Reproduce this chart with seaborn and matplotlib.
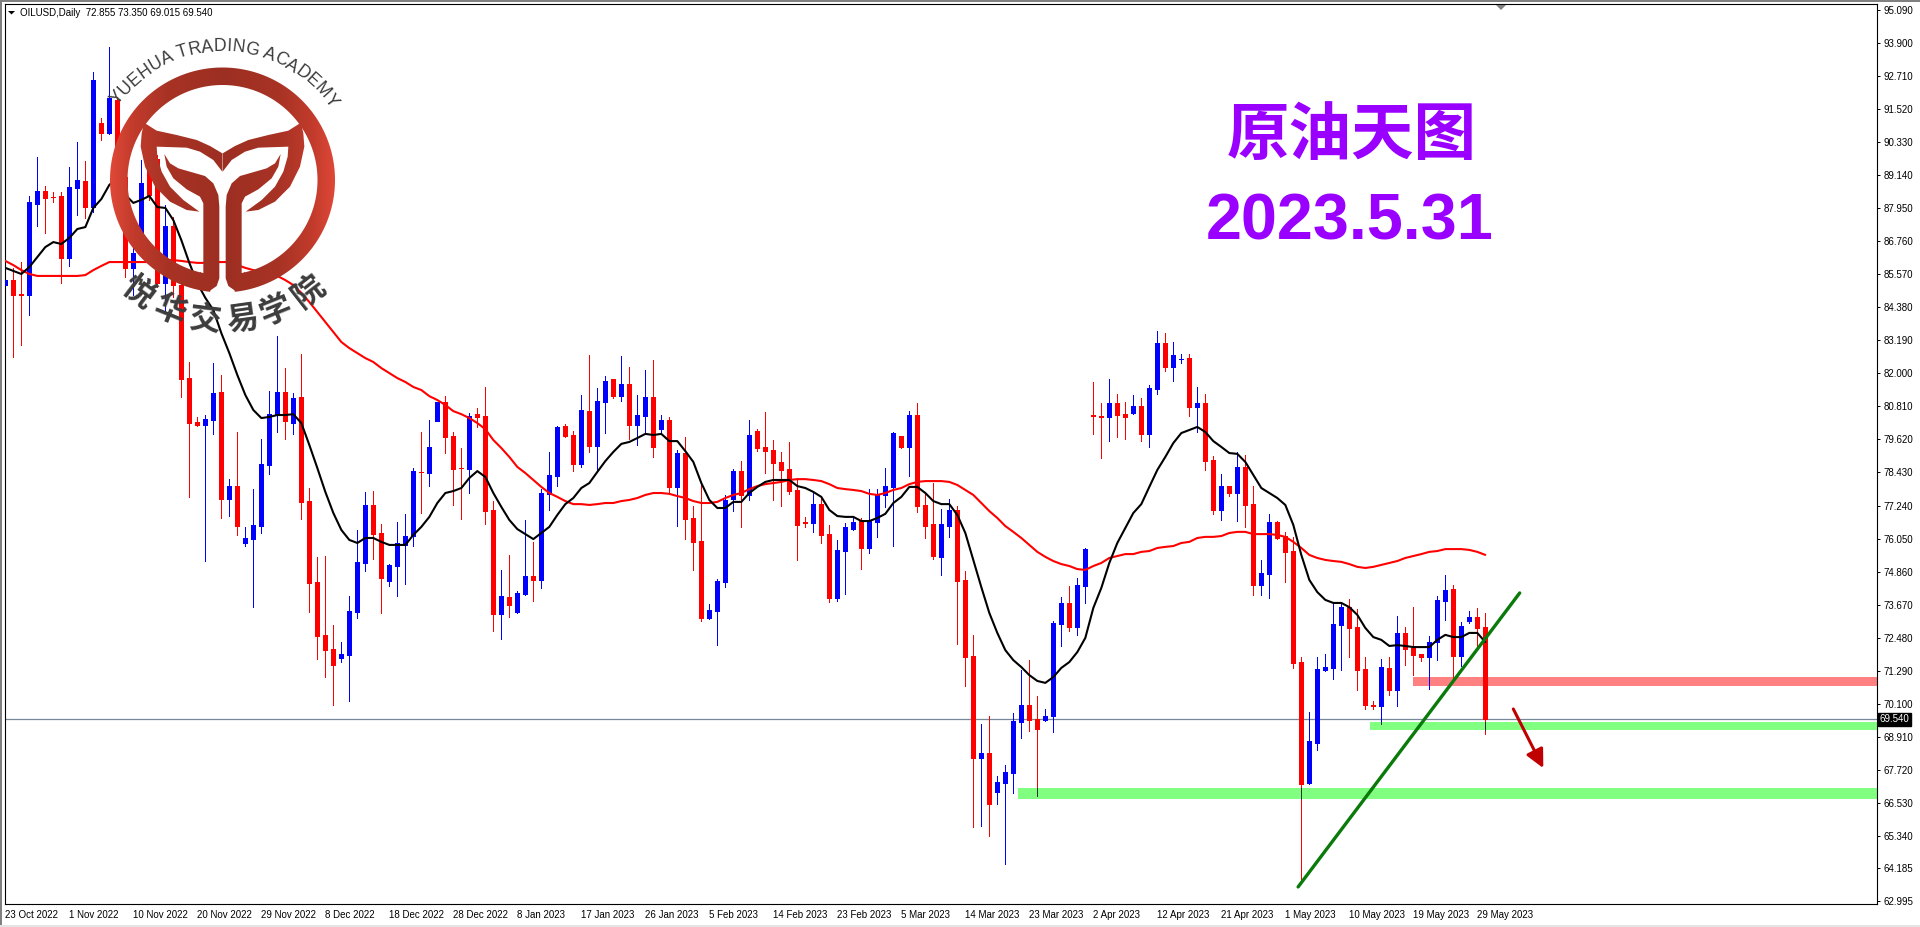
import numpy as np
import pandas as pd
import seaborn as sns
import matplotlib.pyplot as plt

from matplotlib.colors import LinearSegmentedColormap
from matplotlib.font_manager import FontProperties
from matplotlib.patches import Polygon
from matplotlib.textpath import text_to_path

# Colours
RED = "#FF0000"
BLUE = "#0000FF"
PINK_ZONE = "#FF8080"
GREEN_ZONE = "#80FF80"
PURPLE = "#9900FF"
LOGO_TEXT = "#3C3C3C"

# OILUSD daily candles, b = up bar, r = down bar
sides = ("brrbbrrrbb" "rbrbrrbbrr" "brrrrbbrbr" "bbbbbrbrrr" "rrbbbbrrbb"
         "bbrbbrrrbr" "rrbrbbrbbb" "rrbrbbrbrb" "brbrbrrrbb" "bbrbrrrrrr"
         "rbrrbbbrbb" "bbrbrrrbbr" "rrbrbbbbrr" "bbbrbbrrbr" "rbrbbrbbrb"
         "rrbrbrrbbr" "rrrbbbbbrr" "rrbrbrrrbb" "brbbrr")

highs = [85.61, 85.80, 86.01, 88.39, 89.80, 88.75, 88.53, 88.53, 89.43, 90.33,
         89.65, 92.86, 91.20, 93.76, 91.96, 90.05, 87.34, 89.69, 89.51, 89.87,
         88.07, 87.63, 85.54, 82.41, 80.43, 80.50, 82.37, 81.94, 78.19, 79.89,
         76.47, 77.83, 79.64, 81.36, 83.35, 82.19, 81.29, 82.70, 77.87, 75.39,
         75.42, 72.94, 72.32, 73.98, 76.36, 77.73, 77.76, 76.58, 75.13, 76.65,
         76.94, 78.59, 79.89, 80.32, 80.97, 81.18, 79.89, 79.31, 80.57, 80.75,
         81.51, 77.40, 74.92, 75.46, 74.16, 76.72, 75.93, 77.83, 79.17, 80.10,
         80.18, 79.92, 81.22, 82.66, 81.47, 81.90, 81.80, 82.63, 82.23, 81.22,
         82.12, 82.48, 80.50, 80.43, 79.24, 79.71, 77.22, 78.05, 73.69, 74.59,
         77.62, 78.56, 78.84, 80.32, 80.00, 80.61, 79.60, 79.17, 79.53, 78.23,
         76.82, 77.69, 77.51, 76.54, 76.00, 76.61, 76.82, 76.79, 77.83, 77.83,
         78.59, 79.89, 79.74, 80.64, 80.93, 77.66, 78.05, 77.11, 77.47, 77.22,
         74.88, 72.58, 69.37, 69.66, 67.50, 67.89, 69.77, 71.31, 71.67, 70.38,
         69.91, 73.08, 73.94, 74.34, 74.63, 75.71, 81.69, 80.93, 81.80, 81.26,
         80.97, 81.22, 81.11, 81.58, 83.53, 83.45, 83.13, 82.70, 82.70, 81.51,
         81.26, 79.02, 78.37, 77.94, 79.17, 79.06, 77.94, 75.28, 76.94, 76.68,
         76.29, 76.11, 71.78, 69.80, 71.78, 71.89, 73.73, 73.76, 73.87, 73.51,
         71.78, 70.20, 71.71, 71.78, 73.26, 72.86, 73.58, 71.89, 72.54, 73.98,
         74.74, 74.38, 73.05, 73.44, 73.55, 73.35]

body_tops = [85.36, 85.36, 84.86, 88.17, 88.57, 88.57, 88.36, 88.39, 88.71, 88.97,
             88.93, 92.57, 91.02, 91.92, 91.85, 89.07, 86.34, 88.86, 89.33, 89.72,
             87.31, 87.31, 85.18, 81.83, 80.25, 80.36, 81.29, 81.33, 77.94, 77.94,
             76.07, 76.54, 78.74, 80.53, 81.33, 81.33, 81.11, 81.15, 77.40, 74.49,
             72.58, 72.07, 71.89, 73.44, 75.20, 77.26, 77.26, 76.25, 75.10, 75.89,
             76.14, 78.48, 78.46, 79.35, 80.96, 80.97, 79.74, 78.60, 80.46, 80.53,
             80.46, 77.08, 73.98, 73.94, 74.09, 74.70, 74.70, 77.69, 78.34, 80.07,
             80.10, 79.78, 80.68, 80.64, 81.00, 81.72, 81.79, 81.62, 81.62, 80.50,
             81.15, 81.15, 80.32, 80.32, 79.13, 79.13, 76.79, 75.96, 73.48, 74.52,
             77.44, 78.48, 78.48, 79.78, 79.92, 79.35, 79.24, 78.81, 78.56, 77.80,
             76.64, 77.29, 77.29, 76.21, 75.64, 76.47, 76.64, 76.68, 76.68, 77.62,
             77.94, 79.85, 79.73, 80.50, 80.50, 77.26, 76.57, 76.57, 77.08, 77.08,
             74.56, 71.82, 68.32, 68.32, 67.28, 67.64, 69.48, 70.05, 70.05, 69.55,
             69.66, 73.01, 73.73, 73.73, 74.38, 75.67, 80.50, 80.46, 80.93, 80.93,
             80.53, 80.82, 80.82, 81.47, 83.09, 83.09, 82.66, 82.52, 82.55, 80.93,
             80.93, 78.88, 77.94, 77.93, 78.63, 78.63, 77.29, 74.81, 76.65, 76.65,
             76.14, 75.60, 71.60, 68.76, 71.35, 71.42, 72.97, 73.58, 73.58, 72.86,
             71.35, 70.05, 71.42, 71.39, 72.65, 72.65, 72.11, 71.88, 72.32, 73.84,
             74.20, 74.23, 72.90, 73.22, 73.22, 72.855]

body_bottoms = [85.18, 84.82, 84.84, 84.82, 88.10, 88.32, 88.34, 86.15, 86.15, 88.68,
                87.99, 87.99, 90.66, 90.66, 90.12, 85.80, 85.80, 86.98, 88.43, 85.25,
                85.25, 85.18, 81.80, 80.21, 80.14, 80.14, 80.32, 77.47, 77.47, 76.50,
                75.89, 76.03, 76.50, 78.70, 80.53, 80.28, 80.21, 77.37, 74.45, 72.54,
                72.03, 71.49, 71.75, 71.85, 73.40, 75.17, 76.21, 74.63, 74.52, 75.06,
                75.82, 76.14, 78.44, 78.41, 80.28, 79.71, 78.55, 78.58, 78.55, 80.43,
                77.04, 73.33, 73.33, 73.66, 73.40, 74.05, 74.56, 74.56, 77.66, 78.30,
                79.74, 78.74, 78.74, 79.38, 79.38, 80.97, 81.18, 81.18, 80.14, 80.14,
                80.46, 79.35, 79.99, 77.91, 77.91, 76.75, 75.92, 73.19, 73.19, 73.44,
                74.49, 77.47, 77.62, 77.62, 79.31, 79.20, 78.77, 78.52, 77.76, 76.54,
                76.62, 76.61, 76.18, 73.91, 73.91, 75.60, 76.39, 75.71, 75.71, 76.65,
                77.62, 77.91, 79.35, 79.35, 77.22, 76.50, 75.42, 75.38, 76.50, 74.52,
                71.78, 68.14, 68.14, 66.49, 66.92, 67.24, 67.60, 69.44, 69.51, 69.19,
                69.51, 69.66, 72.97, 72.86, 72.86, 74.34, 80.48, 80.44, 80.43, 80.50,
                80.43, 80.57, 79.82, 79.82, 81.44, 82.23, 82.23, 82.50, 80.79, 80.79,
                78.84, 77.08, 77.08, 77.69, 77.69, 77.26, 74.38, 74.38, 74.77, 76.07,
                75.57, 71.57, 67.21, 67.24, 68.69, 71.31, 71.39, 72.93, 72.83, 71.31,
                70.05, 70.03, 70.02, 70.59, 70.59, 72.07, 71.85, 71.78, 71.78, 72.32,
                73.80, 71.82, 71.82, 73.08, 72.83, 69.54]

lows = [85.04, 82.59, 83.02, 84.10, 87.31, 87.05, 88.17, 85.25, 85.87, 87.71,
        87.60, 87.81, 90.41, 90.62, 89.87, 85.47, 84.82, 86.44, 88.25, 85.11,
        84.17, 84.75, 81.15, 77.55, 80.10, 75.24, 79.82, 76.79, 76.86, 76.18,
        75.78, 73.58, 76.25, 78.37, 79.89, 79.64, 79.82, 76.75, 73.40, 71.71,
        71.06, 70.05, 71.60, 70.20, 73.19, 74.88, 75.31, 73.37, 74.34, 73.98,
        74.41, 75.78, 76.97, 77.94, 80.27, 79.13, 77.26, 76.75, 77.69, 80.07,
        76.57, 72.72, 72.43, 73.22, 73.37, 74.02, 73.80, 74.27, 77.08, 77.94,
        79.71, 78.48, 78.63, 79.17, 78.52, 79.85, 81.11, 81.00, 79.64, 79.42,
        79.89, 78.99, 79.85, 77.66, 76.50, 76.03, 74.92, 73.08, 73.15, 72.21,
        74.30, 77.04, 76.47, 77.44, 79.20, 78.41, 77.44, 77.22, 77.66, 75.28,
        76.47, 76.29, 75.89, 73.76, 73.80, 74.05, 76.36, 74.95, 75.53, 76.11,
        77.18, 75.78, 79.31, 78.30, 77.01, 76.07, 75.31, 74.74, 76.11, 72.25,
        70.74, 65.66, 65.69, 65.33, 66.49, 64.33, 66.88, 68.86, 69.12, 66.78,
        69.48, 69.08, 72.18, 72.72, 72.58, 73.73, 79.82, 78.95, 79.56, 79.71,
        79.64, 80.53, 79.56, 79.35, 81.26, 82.09, 81.72, 82.37, 80.46, 79.89,
        78.52, 76.94, 76.72, 77.58, 76.68, 76.47, 74.02, 74.02, 73.91, 76.03,
        74.49, 71.39, 63.75, 67.21, 68.43, 71.28, 70.99, 71.31, 71.78, 70.59,
        69.91, 69.91, 69.37, 70.41, 70.02, 71.49, 71.13, 71.64, 70.63, 71.67,
        73.12, 70.95, 71.46, 73.01, 72.03, 69.015]

ma_fast = [85.80, 85.69, 85.58, 85.83, 86.19, 86.55, 86.73, 86.66, 86.88, 87.20,
           87.27, 87.96, 88.28, 88.79, 89.04, 88.43, 88.14, 88.25, 88.39, 87.99,
           87.96, 87.52, 86.80, 85.98, 85.25, 84.72, 84.28, 83.45, 82.73, 81.94,
           81.22, 80.68, 80.39, 80.43, 80.50, 80.50, 80.53, 80.21, 79.42, 78.59,
           77.73, 76.97, 76.36, 76.00, 75.89, 76.07, 76.07, 75.93, 75.82, 75.82,
           75.82, 76.18, 76.47, 76.83, 77.33, 77.69, 77.76, 77.87, 78.23, 78.48,
           78.27, 77.69, 77.19, 76.72, 76.39, 76.21, 76.03, 76.25, 76.47, 76.90,
           77.29, 77.51, 77.87, 78.05, 78.45, 78.84, 79.17, 79.46, 79.53, 79.67,
           79.82, 79.78, 79.82, 79.56, 79.56, 79.20, 78.81, 78.05, 77.44, 77.15,
           77.15, 77.37, 77.37, 77.69, 77.91, 78.09, 78.16, 78.16, 78.16, 77.94,
           77.87, 77.73, 77.55, 77.08, 76.86, 76.83, 76.83, 76.68, 76.68, 76.79,
           76.94, 77.33, 77.55, 77.91, 77.91, 77.69, 77.40, 77.29, 77.29, 76.90,
           76.25, 75.28, 74.30, 73.37, 72.65, 72.03, 71.67, 71.42, 71.13, 70.92,
           70.85, 71.06, 71.39, 71.60, 71.96, 72.47, 73.55, 74.27, 75.17, 75.89,
           76.43, 76.97, 77.29, 77.91, 78.52, 78.99, 79.49, 79.85, 79.96, 80.07,
           79.89, 79.56, 79.35, 79.13, 79.10, 78.81, 78.34, 77.87, 77.69, 77.51,
           77.26, 76.54, 75.46, 74.56, 74.12, 73.84, 73.73, 73.73, 73.58, 73.30,
           72.83, 72.50, 72.40, 72.18, 72.21, 72.18, 72.14, 72.14, 72.14, 72.40,
           72.58, 72.50, 72.50, 72.65, 72.65, 72.32]

ma_slow = [86.05, 85.90, 85.72, 85.58, 85.51, 85.51, 85.51, 85.51, 85.51, 85.51,
           85.54, 85.72, 85.87, 86.01, 86.01, 86.01, 86.01, 86.01, 86.01, 86.01,
           86.08, 86.08, 86.05, 86.01, 85.98, 85.98, 86.01, 86.01, 86.01, 85.90,
           85.80, 85.72, 85.65, 85.61, 85.51, 85.36, 85.18, 84.90, 84.57, 84.21,
           83.85, 83.49, 83.13, 82.91, 82.73, 82.55, 82.41, 82.19, 82.01, 81.83,
           81.69, 81.51, 81.40, 81.18, 81.04, 80.86, 80.64, 80.53, 80.39, 80.21,
           79.99, 79.60, 79.31, 78.99, 78.63, 78.41, 78.16, 77.91, 77.69, 77.55,
           77.40, 77.29, 77.29, 77.26, 77.29, 77.33, 77.33, 77.40, 77.44, 77.51,
           77.62, 77.69, 77.69, 77.66, 77.58, 77.51, 77.40, 77.33, 77.33, 77.37,
           77.51, 77.62, 77.69, 77.83, 77.94, 78.01, 78.05, 78.09, 78.16, 78.19,
           78.19, 78.16, 78.12, 78.01, 77.87, 77.83, 77.80, 77.76, 77.66, 77.62,
           77.69, 77.80, 77.87, 78.01, 78.09, 78.12, 78.12, 78.12, 78.09, 77.98,
           77.80, 77.62, 77.33, 77.04, 76.79, 76.50, 76.29, 76.07, 75.82, 75.57,
           75.39, 75.24, 75.13, 75.06, 74.95, 74.92, 75.06, 75.17, 75.35, 75.42,
           75.49, 75.49, 75.57, 75.60, 75.71, 75.75, 75.78, 75.89, 75.93, 76.07,
           76.11, 76.11, 76.14, 76.25, 76.29, 76.29, 76.21, 76.21, 76.21, 76.18,
           76.11, 75.93, 75.71, 75.46, 75.35, 75.28, 75.24, 75.21, 75.13, 75.03,
           74.99, 75.03, 75.10, 75.17, 75.24, 75.35, 75.42, 75.49, 75.57, 75.60,
           75.67, 75.67, 75.67, 75.64, 75.57, 75.46]

# Axis labels
y_ticks = [95.090, 93.900, 92.710, 91.520, 90.330, 89.140, 87.950, 86.760, 85.570, 84.380,
           83.190, 82.000, 80.810, 79.620, 78.430, 77.240, 76.050, 74.860, 73.670, 72.480,
           71.290, 70.100, 68.910, 67.720, 66.530, 65.340, 64.185, 62.995]
date_labels = ["23 Oct 2022", "1 Nov 2022", "10 Nov 2022", "20 Nov 2022", "29 Nov 2022",
               "8 Dec 2022", "18 Dec 2022", "28 Dec 2022", "8 Jan 2023", "17 Jan 2023",
               "26 Jan 2023", "5 Feb 2023", "14 Feb 2023", "23 Feb 2023", "5 Mar 2023",
               "14 Mar 2023", "23 Mar 2023", "2 Apr 2023", "12 Apr 2023", "21 Apr 2023",
               "1 May 2023", "10 May 2023", "19 May 2023", "29 May 2023"]
last_price = 69.540
header = "OILUSD,Daily  72.855 73.350 69.015 69.540"

# Hand drawn objects on the chart, in bars and prices
zones = [(176.0, 70.74, 71.06, PINK_ZONE),
         (170.6, 69.15, 69.44, GREEN_ZONE),
         (126.6, 66.67, 67.06, GREEN_ZONE)]
trend_bars = [161.6, 189.3]
trend_prices = [63.50, 74.09]
arrow_bars = [188.5, 192.25]
arrow_prices = [69.91, 67.78]

sns.set_style("white")
plt.rcParams['font.family'] = ['Liberation Sans', 'DejaVu Sans']

W, H = 1920, 927
TICK_SIZE = 7
figure = plt.figure(figsize=(W / 100, H / 100), dpi=100, facecolor="white")
AX = figure.add_axes([4.7 / W, 1 - 904 / H, 1872.6 / W, 899.7 / H])

bars = np.arange(len(sides))
up = np.array([s == "b" for s in sides])
colors = [BLUE if u else RED for u in up]
tops = np.array(body_tops)
bottoms = np.array(body_bottoms)

# zones sit under everything, last price line just above them
for start, low, high, color in zones:
    AX.fill_between([start, 240], low, high, color=color, linewidth=0, zorder=1)
AX.axhline(last_price, color="#778899", linewidth=0.9, zorder=1.5)

# candles
AX.vlines(bars, lows, highs, colors=colors, linewidth=0.72, antialiased=False, zorder=2)
AX.bar(bars, tops - bottoms, bottom=bottoms, width=0.5, color=colors, edgecolor=colors,
       linewidth=0.72, antialiased=False, zorder=3)

# wicks turn dark where they cross a green zone
for start, low, high, color in zones[1:]:
    for i in bars[bars >= start]:
        seg_low = max(lows[i], low)
        seg_high = min(body_bottoms[i], high)
        if seg_high > seg_low:
            AX.vlines(i, seg_low, seg_high, colors="#303030", linewidth=0.72,
                      antialiased=False, zorder=3)

# moving averages
data = pd.DataFrame({"bar": bars, "ma_fast": ma_fast, "ma_slow": ma_slow})
sns.lineplot(data=data, x="bar", y="ma_slow", color=RED, linewidth=1.5, ax=AX, zorder=4)
sns.lineplot(data=data, x="bar", y="ma_fast", color="black", linewidth=1.5, ax=AX, zorder=4.5)

# trend line and arrow
AX.plot(trend_bars, trend_prices, color="#0A7A0A", linewidth=2.4, zorder=5)
AX.annotate("", xy=(arrow_bars[1], arrow_prices[1]), xytext=(arrow_bars[0], arrow_prices[0]),
            arrowprops=dict(arrowstyle="-|>,head_length=0.85,head_width=0.42", color="#C00000",
                            linewidth=2.2, shrinkA=0, shrinkB=0, mutation_scale=13), zorder=6)

AX.set_xlim(-0.08, 234.0)
AX.set_ylim(62.885, 95.295)
AX.set_xlabel("")
AX.set_ylabel("")
AX.set_xticks(bars[::8], labels=date_labels)
AX.set_yticks(y_ticks, labels=[f"{v:.3f}" for v in y_ticks])
AX.yaxis.tick_right()
AX.tick_params(axis="both", direction="out", length=2.4, width=0.72, color="black",
               labelsize=TICK_SIZE, labelcolor="black", pad=2)
for label in AX.get_xticklabels():
    label.set_ha("left")
for spine in AX.spines.values():
    spine.set_visible(True)
    spine.set_color("black")
    spine.set_linewidth(0.8)

AX.text(1.0011, last_price, f"{last_price:.3f}", transform=AX.get_yaxis_transform(),
        color="white", fontsize=TICK_SIZE, va="center", ha="left",
        bbox=dict(facecolor="black", edgecolor="black", pad=1.2), zorder=10)

# overlay in screen pixels for the frame, watermark and captions
LOGO = figure.add_axes([0, 0, 1, 1], zorder=20)
LOGO.patch.set_alpha(0)
LOGO.axis("off")

LOGO.text(20, 12.5, header, fontsize=TICK_SIZE, color="black", va="center", ha="left")
LOGO.add_patch(Polygon([(8, 11), (15, 11), (11.5, 14.5)], color="black", linewidth=0))
LOGO.add_patch(Polygon([(1496, 5), (1506, 5), (1501, 10)], color="#808080", linewidth=0))
LOGO.add_patch(Polygon([(0, 0), (W, 0), (W, 2), (0, 2)], color="#808080", linewidth=0))
LOGO.add_patch(Polygon([(0, 0), (2, 0), (2, H), (0, H)], color="#808080", linewidth=0))
LOGO.add_patch(Polygon([(0, 925), (W, 925), (W, H), (0, H)], color="#E4E4E4", linewidth=0))

# Ring and Y of the academy logo, traced in zoomed pixels then scaled down
CX, CY = 222.5, 180.0
t = np.radians(np.linspace(96.3, 443.7, 240))
ring = np.vstack([np.column_stack([CX + 112.5 * np.cos(t), CY + 112.5 * np.sin(t)]),
                  np.column_stack([CX + 95 * np.cos(t[::-1]), CY + 95 * np.sin(t[::-1])])])
wing = np.array([(432, 368), (470, 392), (530, 405), (590, 420), (630, 438), (667, 460),
                 (667, 515), (640, 480), (600, 455), (560, 443), (470, 440),
                 (472, 470), (485, 515), (510, 560), (550, 600), (598, 635),
                 (560, 630), (510, 605), (465, 560), (435, 500), (422, 440), (425, 400)]) / 3
stem = np.array([(493, 462), (510, 490), (535, 505), (580, 518), (615, 528), (640, 550),
                 (655, 585), (658, 620), (658, 835), (650, 858), (630, 872), (600, 868),
                 (600, 815), (610, 825), (610, 610), (600, 590), (560, 568), (520, 535),
                 (500, 500)]) / 3
mirror = np.array([2 * CX, 0])
shapes = [ring, wing, stem, mirror + wing * [-1, 1], mirror + stem * [-1, 1]]

logo_cmap = LinearSegmentedColormap.from_list(
    "logo", [(0, "#9C2F22"), (0.5, "#A83325"), (0.8, "#C23B2C"), (1, "#E04837")])
shade = np.abs(np.linspace(-1, 1, 256))[None, :]
for shape in shapes:
    image = LOGO.imshow(shade, cmap=logo_cmap, vmin=0, vmax=1, aspect="auto",
                        extent=(CX - 113, CX + 113, 295, 65), interpolation="bilinear")
    image.set_clip_path(Polygon(shape, transform=LOGO.transData))

# Curved lettering round the ring
arc_text = "YUEHUA TRADING ACADEMY"
arc_font = FontProperties(family="Liberation Sans", size=12.7)
advance = [text_to_path.get_text_width_height_descent(c, arc_font, False)[0] * 100 / 72
           for c in arc_text]
arc_radius = 129
offset = -sum(advance) / 2
for c, w in zip(arc_text, advance):
    angle = (offset + w / 2) / arc_radius + np.radians(1.0)
    LOGO.text(CX + arc_radius * np.sin(angle), CY - arc_radius * np.cos(angle), c,
              fontproperties=arc_font, color=LOGO_TEXT, ha="center", va="baseline",
              rotation=-np.degrees(angle), rotation_mode="anchor")
    offset += w

cn_chars = "悦华交易学院"
cn_angles = [37, 22, 7, -8, -22, -38]
for c, a in zip(cn_chars, cn_angles):
    LOGO.text(CX - 141 * np.sin(np.radians(a)), CY + 141 * np.cos(np.radians(a)), c,
              family=['Noto Sans CJK SC', 'DejaVu Sans'], fontweight="bold", fontsize=23,
              color=LOGO_TEXT, ha="center", va="center", rotation=-a, rotation_mode="anchor")

# Captions
LOGO.text(1352, 135, "原油天图", family=['Noto Sans CJK SC', 'DejaVu Sans'], fontweight="bold",
          fontsize=45, color=PURPLE, ha="center", va="center")
LOGO.text(1349.5, 222, "2023.5.31", family=['Liberation Sans', 'DejaVu Sans'], fontweight="bold",
          fontsize=46.5, color=PURPLE, ha="center", va="center")

LOGO.set_xlim(0, W)
LOGO.set_ylim(H, 0)

figure.savefig("out.png", dpi=100, facecolor="white")
